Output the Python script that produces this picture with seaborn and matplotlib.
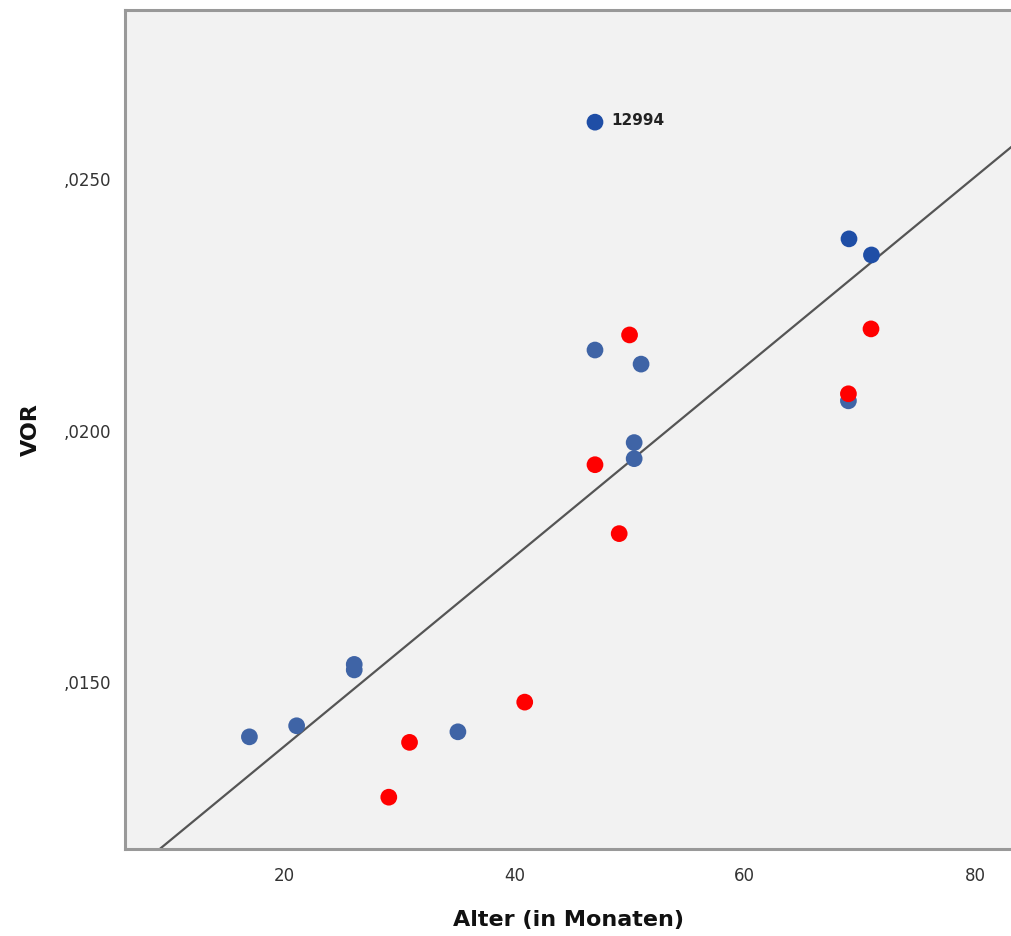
import matplotlib
matplotlib.use("Agg")
import matplotlib.pyplot as plt
import matplotlib.ticker as mticker
import seaborn as sns
import pandas as pd
import numpy as np

# ---- data ----
alter = [47.0, 69.05, 71.0,
         50.0, 70.96, 69.0, 47.0, 49.1, 40.9, 30.9, 29.1,
         47.0, 51.0, 69.0, 50.4, 50.4, 26.1, 26.1, 21.1, 17.0, 35.1]
vor = [0.02613, 0.02381, 0.02349,
       0.02190, 0.02202, 0.02073, 0.01932, 0.01795, 0.01460, 0.01380, 0.01271,
       0.02160, 0.02132, 0.02059, 0.01976, 0.01944, 0.01535, 0.01524, 0.01413, 0.01391, 0.01401]
gruppe = ["A", "A", "A",
          "R", "R", "R", "R", "R", "R", "R", "R",
          "B", "B", "B", "B", "B", "B", "B", "B", "B", "B"]
label_text = "12994"
label_x = 47.0
label_y = 0.02613

fit_slope = 0.0001888
fit_intercept = 0.00994

x_ticks = [20, 40, 60, 80]
y_ticks = [0.0150, 0.0200, 0.0250]

df = pd.DataFrame({"Alter": alter, "VOR": vor, "Gruppe": gruppe})
# draw blue first, red on top
order = {"B": 0, "A": 1, "R": 2}
df = df.sort_values("Gruppe", key=lambda s: s.map(order))

palette = {"A": "#1f4ea6", "B": "#3f64a6", "R": "#ff0000"}

sns.set_style("white")
plt.rcParams["font.family"] = ["DejaVu Sans"]

fig = plt.figure(figsize=(10.12, 9.36), dpi=100)
ax = fig.add_axes([125 / 1012, 1 - 849 / 936, 1 - 125 / 1012, (849 - 10) / 936])
ax.set_facecolor("#f2f2f2")

xlim = (6.2, 83.2)
ylim = (0.01168, 0.02836)

# fit line
lx = np.array(xlim)
ax.plot(lx, fit_intercept + fit_slope * lx, color="#555555", lw=1.6, zorder=2)

sns.scatterplot(data=df, x="Alter", y="VOR", hue="Gruppe", palette=palette,
                s=145, linewidth=0, legend=False, ax=ax, zorder=3)

ax.annotate(label_text, (label_x, label_y), xytext=(12, 1), textcoords="offset points",
            fontsize=11, fontweight="bold", color="#222222", va="center", ha="left")

ax.set_xlim(*xlim)
ax.set_ylim(*ylim)
ax.set_xticks(x_ticks)
ax.set_yticks(y_ticks)
ax.yaxis.set_major_formatter(mticker.FuncFormatter(
    lambda v, p: f"{v:.4f}".lstrip("0").replace(".", ",")))

for side in ["left", "bottom", "top"]:
    ax.spines[side].set_color("#999999")
    ax.spines[side].set_linewidth(2.2)
ax.spines["right"].set_visible(False)

ax.tick_params(axis="both", which="major", direction="out", length=7, width=1.4,
               color="#333333", labelsize=12, labelcolor="#333333", pad=3)
ax.tick_params(axis="x", pad=6)

ax.set_xlabel("Alter (in Monaten)", fontsize=16, fontweight="bold", color="#111111", labelpad=18)
ax.set_ylabel("VOR", fontsize=16, fontweight="bold", color="#111111", labelpad=16)

fig.savefig("out.png", dpi=100, facecolor="white")
